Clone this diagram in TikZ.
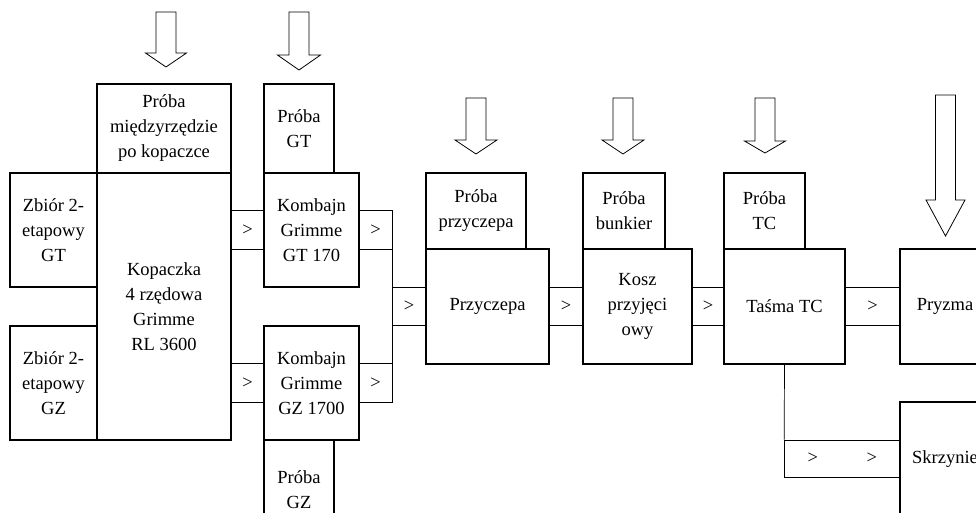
\documentclass[tikz,border=0pt]{standalone}
\usepackage{fontspec}
\setmainfont{Liberation Serif}
\newcommand\blockarr[5]{% cx, top, headstart, tip, wing half
  \draw[bigarrow] (#1-10,#2) -- (#1+10,#2) -- (#1+10,#3) -- (#1+#5,#3) -- (#1,#4) -- (#1-#5,#3) -- (#1-10,#3) -- cycle;}
\begin{document}
\begin{tikzpicture}[x=1pt,y=-1pt,
  every node/.style={font=\fontsize{18.5}{25}\selectfont, align=center, inner sep=0pt},
  box/.style={draw, line width=1.1pt, rectangle},
  conn/.style={draw, line width=0.7pt, rectangle, minimum height=38.5pt},
  link/.style={line width=0.7pt},
  bigarrow/.style={line width=0.8pt}]
\useasboundingbox (0,0) rectangle (976,512);
% main boxes
\node[box, minimum width=134pt, minimum height=89pt] (pmk) at (164,128.5) {Próba\\międzyrzędzie\\po kopaczce};
\node[box, minimum width=70pt, minimum height=89pt] (pgt) at (299,128.5) {Próba\\GT};
\node[box, minimum width=87pt, minimum height=114pt] (zgt) at (53.5,230) {Zbiór 2-\\etapowy\\GT};
\node[box, minimum width=134pt, minimum height=267pt] (kop) at (164,306.5) {Kopaczka\\4 rzędowa\\Grimme\\RL 3600};
\node[box, minimum width=87pt, minimum height=114pt] (zgz) at (53.5,383) {Zbiór 2-\\etapowy\\GZ};
\node[box, minimum width=95pt, minimum height=114pt] (kgt) at (311.5,230) {Kombajn\\Grimme\\GT 170};
\node[box, minimum width=95pt, minimum height=114pt] (kgz) at (311.5,383) {Kombajn\\Grimme\\GZ 1700};
\node[box, minimum width=70pt, minimum height=100pt] (pgz) at (299,490) {Próba\\GZ};
\node[box, minimum width=100pt, minimum height=76pt] (pp) at (476,211) {Próba\\przyczepa};
\node[box, minimum width=123pt, minimum height=115pt] (prz) at (487.5,306.5) {Przyczepa};
\node[box, minimum width=82pt, minimum height=76pt] (pb) at (624,211) {Próba\\bunkier};
\node[box, minimum width=109pt, minimum height=115pt] (kosz) at (637.5,306.5) {Kosz\\przyjęci\\owy};
\node[box, minimum width=81pt, minimum height=76pt] (ptc) at (764.5,211) {Próba\\TC};
\node[box, minimum width=121pt, minimum height=115pt] (tas) at (784.5,306.5) {Taśma TC};
\node[box, minimum width=90pt, minimum height=115pt] (pry) at (945,306.5) {Pryzma};
\node[box, minimum width=90pt, minimum height=114pt] (skr) at (945,459) {Skrzynie};
% connectors
\node[conn, minimum width=33pt] (c1) at (247.5,230) {>};
\node[conn, minimum width=33pt] (c2) at (375.5,230) {>};
\node[conn, minimum width=33pt] (c3) at (247.5,383) {>};
\node[conn, minimum width=33pt] (c4) at (375.5,383) {>};
\node[conn, minimum width=34pt] (c5) at (409,306.5) {>};
\node[conn, minimum width=34pt] (c6) at (566,306.5) {>};
\node[conn, minimum width=32pt] (c7) at (708,306.5) {>};
\node[conn, minimum width=55pt] (c8) at (872.5,306.5) {>};
\node[conn, minimum width=115.5pt, minimum height=37pt] (c9) at (842.25,458.5) {>\hspace{48.6pt}>};
\draw[link] (c2.south east) -- (c4.north east);
\draw[link] (tas.south) -- (c9.north west);
% sample arrows
\blockarr{166}{12}{53}{67}{20.5}
\blockarr{299}{12}{55}{70}{21.5}
\blockarr{476}{98}{140}{154}{21}
\blockarr{623}{98}{140}{154}{21}
\blockarr{765}{98}{141}{153}{20.5}
\blockarr{945.5}{95}{200}{236}{19.5}
\end{tikzpicture}
\end{document}
